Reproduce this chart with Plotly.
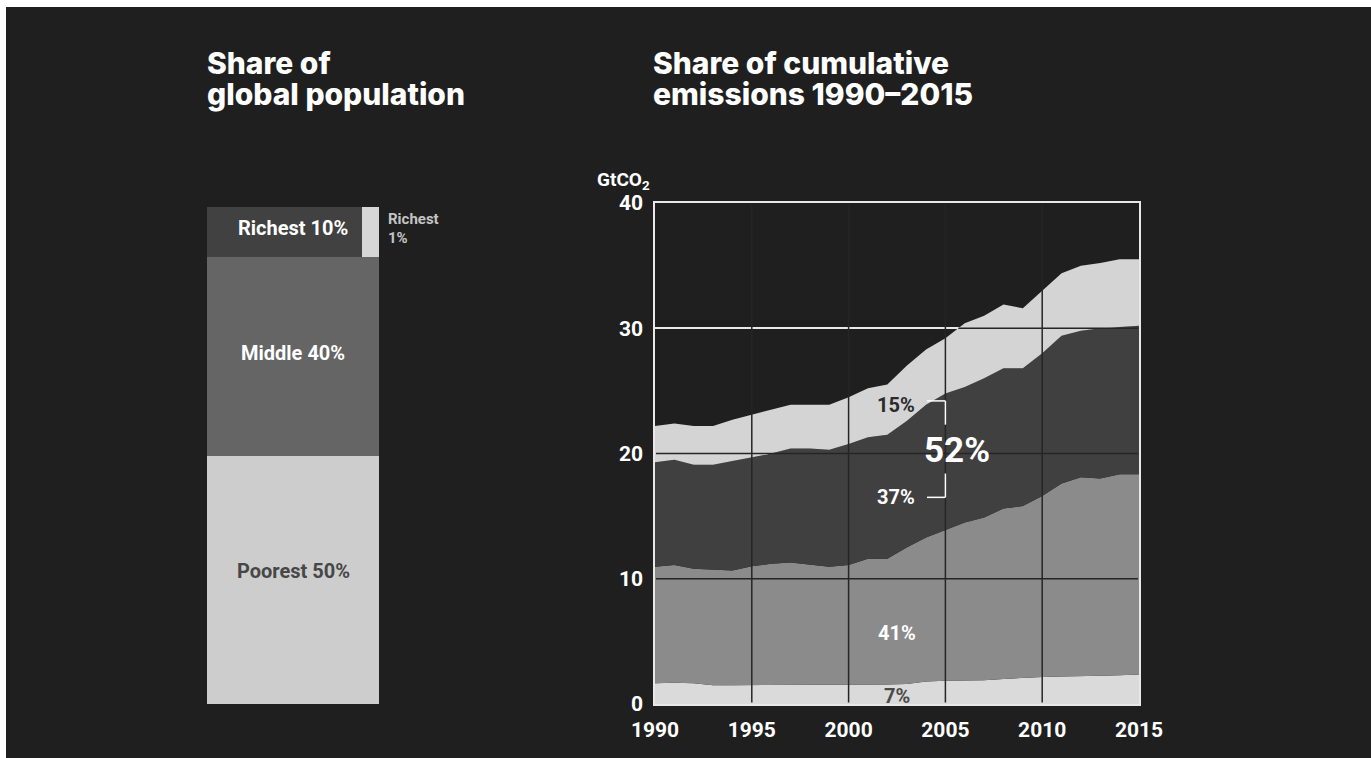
import numpy as np
import plotly.graph_objects as go

W, H = 1371, 758
BG = "#1f1f1f"

# ---------------- data ----------------
years = list(range(1990, 2016))
# emissions by group, GtCO2 (stacked from the bottom)
bottom50 = [1.65, 1.7, 1.65, 1.5, 1.5, 1.5, 1.5, 1.5, 1.55, 1.5, 1.5, 1.5, 1.55,
            1.6, 1.8, 1.85, 1.85, 1.9, 2.0, 2.1, 2.15, 2.2, 2.2, 2.25, 2.3, 2.35]
middle40 = [9.3, 9.4, 9.15, 9.25, 9.15, 9.5, 9.7, 9.8, 9.6, 9.45, 9.6, 10.1, 10.05,
            10.9, 11.5, 12.05, 12.65, 13.0, 13.6, 13.7, 14.45, 15.4, 15.9, 15.75, 16.05, 16.0]
next9 = [8.35, 8.4, 8.3, 8.35, 8.75, 8.7, 8.8, 9.1, 9.25, 9.35, 9.65, 9.7, 9.9,
         10.1, 10.6, 10.9, 10.8, 11.1, 11.2, 11.0, 11.4, 11.8, 11.7, 12.0, 11.75, 11.85]
top1 = [2.9, 2.9, 3.1, 3.1, 3.3, 3.4, 3.5, 3.5, 3.5, 3.6, 3.75, 3.9, 4.0,
        4.4, 4.4, 4.4, 5.1, 5.0, 5.1, 4.8, 5.0, 5.0, 5.2, 5.2, 5.4, 5.3]

pop_labels = ["Poorest 50%", "Middle 40%", "Richest 10%"]
pop_shares = [50, 40, 10]
top1_share_of_top10 = 0.10   # richest 1% = one tenth of the richest 10%

x_ticks = [1990, 1995, 2000, 2005, 2010, 2015]
y_ticks = [0, 10, 20, 30, 40]

share_labels = ["7%", "41%", "37%", "15%"]
combined_label = "52%"

# ---------------- helpers (layout only, pixel -> paper) ----------------
def px(x):
    return x / W

def py(y):
    return 1 - y / H

fig = go.Figure()

area_cols = ["#dadada", "#8b8b8b", "#404040", "#d4d4d4"]
for name, vals, col in zip(["Bottom 50%", "Middle 40%", "Next 9%", "Top 1%"],
                           [bottom50, middle40, next9, top1], area_cols):
    fig.add_trace(go.Scatter(x=years, y=vals, name=name, stackgroup="em",
                             mode="lines", line=dict(width=0), fillcolor=col,
                             hoverinfo="skip", xaxis="x", yaxis="y"))

# ---------------- population bar ----------------
bar_cols = ["#cdcdcd", "#656565", "#414141"]
base = 0
for lab, val, col in zip(pop_labels, pop_shares, bar_cols):
    if lab == "Richest 10%":
        w_main = 1 - top1_share_of_top10
        fig.add_trace(go.Bar(x=[w_main / 2], y=[val], base=[base], width=[w_main],
                             marker=dict(color=col, line=dict(width=0)),
                             hoverinfo="skip", xaxis="x2", yaxis="y2"))
        fig.add_trace(go.Bar(x=[w_main + top1_share_of_top10 / 2], y=[val], base=[base],
                             width=[top1_share_of_top10],
                             marker=dict(color="#d6d6d6", line=dict(width=0)),
                             hoverinfo="skip", xaxis="x2", yaxis="y2"))
    else:
        fig.add_trace(go.Bar(x=[0.5], y=[val], base=[base], width=[1],
                             marker=dict(color=col, line=dict(width=0)),
                             hoverinfo="skip", xaxis="x2", yaxis="y2"))
    base += val

tickfont = dict(family="Roboto", size=21, color="#ffffff", weight="bold")

fig.update_layout(
    width=W, height=H, autosize=False,
    margin=dict(l=0, r=0, t=0, b=0, pad=0),
    paper_bgcolor="#ffffff", plot_bgcolor="rgba(0,0,0,0)",
    showlegend=False, barmode="overlay", bargap=0,
    xaxis=dict(domain=[px(655), px(1139)], range=[1990, 2015], automargin=False,
               tickvals=x_ticks, ticktext=[str(v) for v in x_ticks],
               showgrid=False, zeroline=False, showline=True, mirror=True,
               linecolor="#e8e8e8", linewidth=1.5, ticks="", tickfont=tickfont,
               ticklabelstandoff=6, fixedrange=True),
    yaxis=dict(domain=[py(704), py(203)], range=[0, 40], automargin=False,
               tickvals=y_ticks, ticktext=[str(v) for v in y_ticks],
               showgrid=True, gridcolor="#e8e8e8", gridwidth=1.5,
               zeroline=False, showline=True, mirror=True,
               linecolor="#e8e8e8", linewidth=1.5, ticks="", tickfont=tickfont,
               ticklabelstandoff=6, fixedrange=True),
    xaxis2=dict(domain=[px(207), px(379)], range=[0, 1], visible=False, anchor="y2",
                automargin=False),
    yaxis2=dict(domain=[py(704), py(207)], range=[0, 100], visible=False, anchor="x2",
                automargin=False),
)

shapes = [dict(type="rect", xref="paper", yref="paper", x0=px(6), x1=1, y0=0, y1=py(7),
               fillcolor=BG, line=dict(width=0), layer="below")]

# dark grid lines drawn over the areas
grid_dark = "#252525"
total = np.sum([bottom50, middle40, next9, top1], axis=0)
for yv in y_ticks[1:-1]:
    if total.min() >= yv:
        x_start = years[0] + 0.05
    else:
        i = int(np.argmax(total >= yv))
        x_start = years[i - 1] + (yv - total[i - 1]) / (total[i] - total[i - 1])
    shapes.append(dict(type="line", xref="x", yref="y", x0=x_start, x1=years[-1] - 0.05,
                       y0=yv, y1=yv, line=dict(color=grid_dark, width=1.5), layer="above"))
for xv in x_ticks[1:-1]:
    shapes.append(dict(type="line", xref="x", yref="y", x0=xv, x1=xv, y0=0.12, y1=39.88,
                       line=dict(color=grid_dark, width=1.5), layer="above"))

# bracket for richest 10 %
br = dict(color="#ffffff", width=1.5)
for (x0, y0, x1, y1) in [(2004.05, 24.2, 2005.0, 24.2), (2005.0, 24.2, 2005.0, 22.3),
                         (2005.0, 18.4, 2005.0, 16.5), (2004.05, 16.5, 2005.0, 16.5)]:
    shapes.append(dict(type="line", xref="x", yref="y", x0=x0, x1=x1, y0=y0, y1=y1,
                       line=br, layer="above"))
fig.update_layout(shapes=shapes)

ann = []
title_font = dict(family="Inter", size=30, color="#ffffff", weight=800)
for txt, x, y in [("Share of", 205, 63), ("global population", 205, 94),
                  ("Share of cumulative", 651, 63), ("emissions 1990–2015", 651, 94)]:
    ann.append(dict(text=txt, xref="paper", yref="paper", x=px(x), y=py(y),
                    xanchor="left", yanchor="middle", showarrow=False, font=title_font))

ann.append(dict(text="GtCO<sub>2</sub>", xref="paper", yref="paper", x=px(595), y=py(180),
                xanchor="left", yanchor="middle", showarrow=False,
                font=dict(family="Roboto", size=19, color="#ffffff", weight="bold")))

# population bar labels
lab_font = dict(family="Roboto", size=20, weight="bold")
for txt, yv, col in [(pop_labels[2], 95.8, "#ffffff"), (pop_labels[1], 70.6, "#ffffff"),
                     (pop_labels[0], 26.8, "#474747")]:
    ann.append(dict(text=txt, xref="x2", yref="y2", x=0.5, y=yv, xanchor="center",
                    yanchor="middle", showarrow=False, font=dict(lab_font, color=col)))
for txt, y in [("Richest", 219), ("1%", 238)]:
    ann.append(dict(text=txt, xref="paper", yref="paper", x=px(386), y=py(y),
                    xanchor="left", yanchor="middle", showarrow=False,
                    font=dict(family="Roboto", size=15, color="#c4c4c4", weight="bold")))

# share labels on the area chart
area_font = dict(family="Roboto", size=20, weight="bold")
for txt, xv, yv, col in [(share_labels[0], 2002.5, 0.6, "#4a4a4a"),
                         (share_labels[1], 2002.5, 5.67, "#ffffff"),
                         (share_labels[2], 2002.45, 16.5, "#ffffff"),
                         (share_labels[3], 2002.45, 23.86, "#2b2b2b")]:
    ann.append(dict(text=txt, xref="x", yref="y", x=xv, y=yv, xanchor="center",
                    yanchor="middle", showarrow=False, font=dict(area_font, color=col)))
ann.append(dict(text=combined_label, xref="x", yref="y", x=2005.6, y=20.27,
                xanchor="center", yanchor="middle", showarrow=False,
                font=dict(family="Roboto", size=35, color="#ffffff", weight="bold")))
fig.update_layout(annotations=ann)

fig.write_html("out.html")
